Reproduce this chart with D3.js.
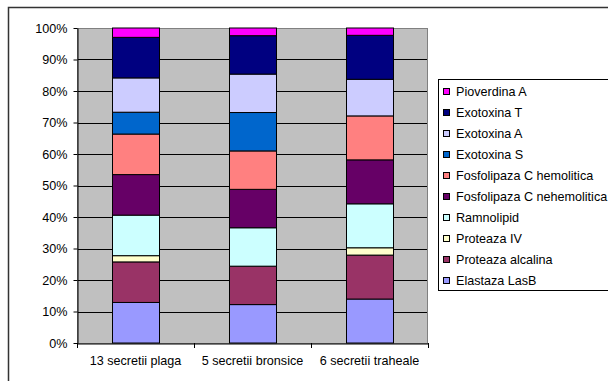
<!DOCTYPE html>
<html><head><meta charset="utf-8">
<script src="https://cdn.jsdelivr.net/npm/d3@7"></script>
<style>html,body{margin:0;padding:0;background:#fff;overflow:hidden}</style>
</head><body>
<svg id="c" width="608" height="381"></svg>
<script>
const categories = ["13 secretii plaga", "5 secretii bronsice", "6 secretii traheale"];
const seriesNames = ["Elastaza LasB","Proteaza alcalina","Proteaza IV","Ramnolipid","Fosfolipaza C nehemolitica","Fosfolipaza C hemolitica","Exotoxina S","Exotoxina A","Exotoxina T","Pioverdina A"];
const seriesColors = ["#9999FF","#993366","#FFFFCC","#CCFFFF","#660066","#FF8080","#0066CC","#CCCCFF","#000080","#FF00FF"];
// counts per category (stacked to 100%)
const elastaza   = [13, 5, 6];
const proteazaAlc= [13, 5, 6];
const proteazaIV = [2, 0, 1];
const ramnolipid = [13, 5, 6];
const fosfoNeh   = [13, 5, 6];
const fosfoHem   = [13, 5, 6];
const exoS       = [7, 5, 0];
const exoA       = [11, 5, 5];
const exoT       = [13, 5, 6];
const pioverdina = [3, 1, 1];
const yTicks = [0,0.1,0.2,0.3,0.4,0.5,0.6,0.7,0.8,0.9,1];

const seriesValues = [elastaza,proteazaAlc,proteazaIV,ramnolipid,fosfoNeh,fosfoHem,exoS,exoA,exoT,pioverdina];
const rows = categories.map((c,i)=>{const r={cat:c}; seriesNames.forEach((s,j)=>r[s]=seriesValues[j][i]); return r;});
const stacked = d3.stack().keys(seriesNames).offset(d3.stackOffsetExpand)(rows);

const svg = d3.select("#c");
const font = "'Liberation Sans', Arial, sans-serif";
const fs = 12.6;
// outer chart border
svg.append("rect").attr("x",8.5).attr("y",7.5).attr("width",640).attr("height",400)
  .attr("fill","#fff").attr("stroke","#333").attr("stroke-width",1.5);

const L=77, R=428, T=28, B=343;
const x = d3.scaleBand().domain(categories).range([L,R]).paddingInner(0.6).paddingOuter(0.3);
const xc = d3.scaleBand().domain(categories).range([L,R]);
const y = d3.scaleLinear().domain([0,1]).range([B,T]);

svg.append("rect").attr("x",L).attr("y",T).attr("width",R-L).attr("height",B-T).attr("fill","#C0C0C0");
// gridlines
svg.append("g").selectAll("line").data(yTicks.slice(1)).join("line")
  .attr("x1",L).attr("x2",R).attr("y1",d=>Math.round(y(d))+0.5).attr("y2",d=>Math.round(y(d))+0.5)
  .attr("stroke","#000").attr("stroke-width",1);
svg.append("rect").attr("x",L+0.5).attr("y",T+0.5).attr("width",R-L-1).attr("height",B-T)
  .attr("fill","none").attr("stroke","#808080").attr("stroke-width",1);

// bars
svg.append("g").selectAll("g").data(stacked).join("g")
  .attr("fill",(d,i)=>seriesColors[i])
  .selectAll("rect").data(d=>d.filter(p=>p[1]-p[0]>0)).join("rect")
  .attr("x",d=>Math.round(x(d.data.cat))+0.5).attr("width",Math.round(x.bandwidth()))
  .attr("y",d=>y(d[1])).attr("height",d=>y(d[0])-y(d[1]))
  .attr("stroke","#000").attr("stroke-width",1);

// y axis
const yAxis = d3.axisLeft(y).tickValues(yTicks).tickFormat(d3.format(".0%")).tickSize(4).tickSizeOuter(0);
const gy = svg.append("g").attr("transform",`translate(${L+0.5},0)`).call(yAxis);
gy.select(".domain").attr("stroke","#000");
gy.selectAll(".tick line").attr("stroke","#000");
gy.selectAll("text").attr("font-family",font).attr("font-size",fs).attr("fill","#000").attr("x",-10);

// x axis
const gx = svg.append("g").attr("transform",`translate(0,${B+0.5})`)
  .call(d3.axisBottom(xc).tickSize(0).tickSizeOuter(0));
gx.select(".domain").attr("stroke","#000");
gx.selectAll("text").attr("font-family",font).attr("font-size",fs).attr("fill","#000").attr("y",13).attr("dy","0.71em");
svg.append("g").selectAll("line").data([0,1,2,3]).join("line")
  .attr("x1",i=>Math.round(L+i*xc.step())+0.5).attr("x2",i=>Math.round(L+i*xc.step())+0.5)
  .attr("y1",B).attr("y2",B+5).attr("stroke","#000");

// legend
const lg = svg.append("g");
lg.append("rect").attr("x",438.5).attr("y",79.5).attr("width",200).attr("height",211)
  .attr("fill","#fff").attr("stroke","#000");
const legendOrder = seriesNames.map((s,i)=>i).reverse();
const li = lg.selectAll("g").data(legendOrder).join("g")
  .attr("transform",(d,k)=>`translate(0,${92+k*21})`);
li.append("rect").attr("x",443.5).attr("y",-3.5).attr("width",6).attr("height",6)
  .attr("fill",d=>seriesColors[d]).attr("stroke","#000");
li.append("text").attr("x",456).attr("y",0).attr("dy","0.35em")
  .attr("font-family",font).attr("font-size",fs).attr("fill","#000").text(d=>seriesNames[d]);
</script>
</body></html>
